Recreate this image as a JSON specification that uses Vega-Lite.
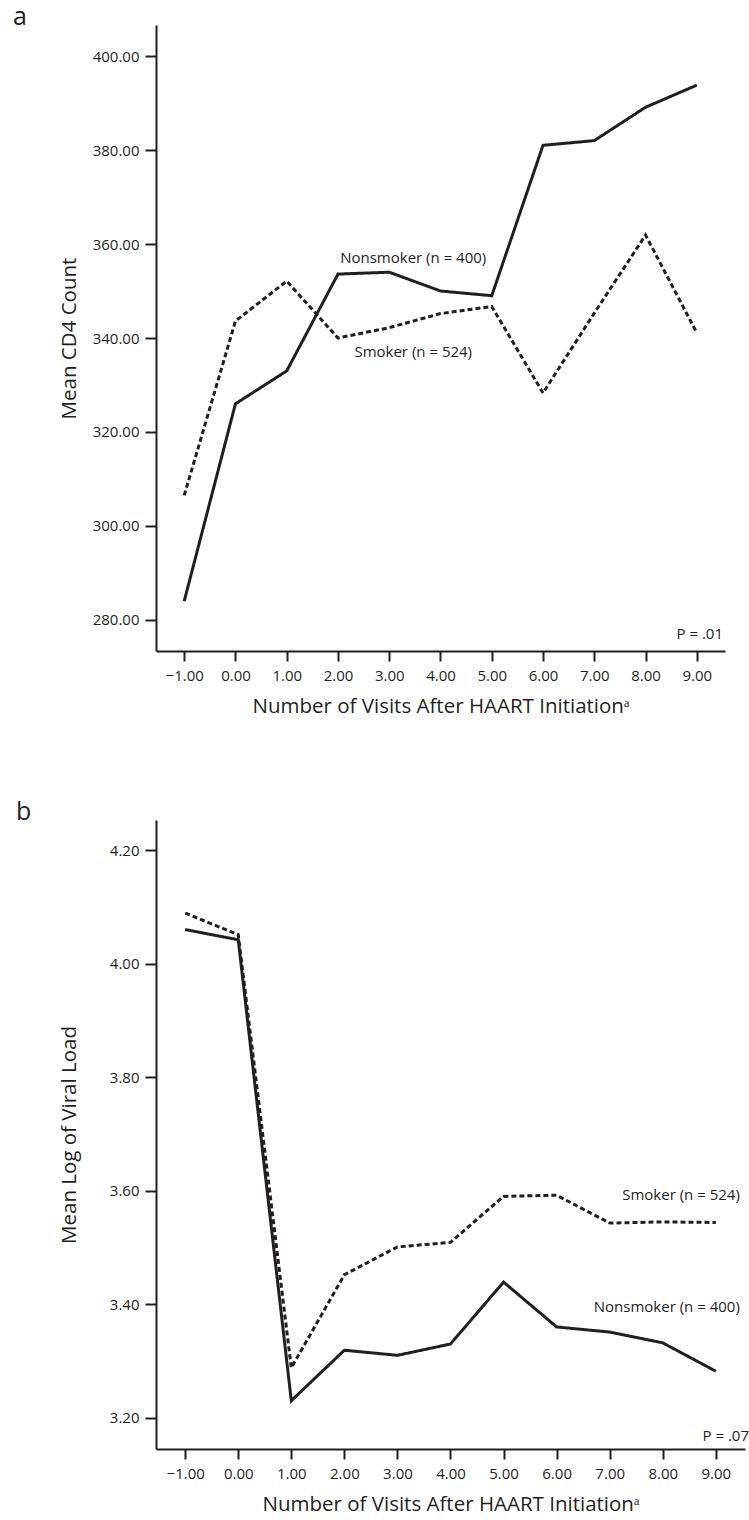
{
  "$schema": "https://vega.github.io/schema/vega-lite/v6.json",
  "background": "white",
  "padding": {"left": 13, "top": 5, "right": 0, "bottom": 0},
  "spacing": 83,
  "config": {
    "font": "Open Sans",
    "view": {"stroke": null},
    "axis": {
      "domainColor": "#231f20", "domainWidth": 2,
      "tickColor": "#231f20", "tickWidth": 2,
      "labelColor": "#231f20", "titleColor": "#231f20",
      "labelFontSize": 15, "titleFontSize": 20.5, "titleFontWeight": "normal",
      "labelFont": "Open Sans", "titleFont": "Open Sans", "grid": false
    },
    "axisX": {"tickSize": 10, "labelPadding": 7, "titlePadding": 13},
    "axisY": {"tickSize": 11, "labelPadding": 6, "titlePadding": 7, "minExtent": 70, "maxExtent": 70},
    "title": {"fontSize": 25, "fontWeight": "normal", "anchor": "start", "frame": "group", "color": "#231f20", "baseline": "alphabetic", "offset": 0}
  },
  "vconcat": [
    {
      "title": {"text": "a", "dx": -143, "dy": 9},
      "width": 569,
      "height": 626,
      "data": {"values": [
        {"visit": -1, "group": "Nonsmoker", "cd4": 284.0},
        {"visit": 0, "group": "Nonsmoker", "cd4": 326.0},
        {"visit": 1, "group": "Nonsmoker", "cd4": 333.0},
        {"visit": 2, "group": "Nonsmoker", "cd4": 353.6},
        {"visit": 3, "group": "Nonsmoker", "cd4": 354.0},
        {"visit": 4, "group": "Nonsmoker", "cd4": 350.0},
        {"visit": 5, "group": "Nonsmoker", "cd4": 349.0},
        {"visit": 6, "group": "Nonsmoker", "cd4": 381.0},
        {"visit": 7, "group": "Nonsmoker", "cd4": 382.0},
        {"visit": 8, "group": "Nonsmoker", "cd4": 389.1},
        {"visit": 9, "group": "Nonsmoker", "cd4": 393.8},
        {"visit": -1, "group": "Smoker", "cd4": 306.5},
        {"visit": 0, "group": "Smoker", "cd4": 343.6},
        {"visit": 1, "group": "Smoker", "cd4": 352.1},
        {"visit": 2, "group": "Smoker", "cd4": 340.0},
        {"visit": 3, "group": "Smoker", "cd4": 342.2},
        {"visit": 4, "group": "Smoker", "cd4": 345.2},
        {"visit": 5, "group": "Smoker", "cd4": 346.7},
        {"visit": 6, "group": "Smoker", "cd4": 328.3},
        {"visit": 7, "group": "Smoker", "cd4": 345.3},
        {"visit": 8, "group": "Smoker", "cd4": 361.9},
        {"visit": 9, "group": "Smoker", "cd4": 341.1}
      ]},
      "encoding": {
        "x": {"field": "visit", "type": "quantitative",
          "scale": {"domain": [-1.55, 9.55], "nice": false, "zero": false},
          "axis": {"values": [-1, 0, 1, 2, 3, 4, 5, 6, 7, 8, 9], "format": ".2f", "title": "Number of Visits After HAART Initiationᵃ"}},
        "y": {"field": "cd4", "type": "quantitative",
          "scale": {"domain": [273.4, 406.6], "nice": false, "zero": false},
          "axis": {"values": [280, 300, 320, 340, 360, 380, 400], "format": ".2f", "title": "Mean CD4 Count"}}
      },
      "layer": [
        {
          "mark": {"type": "line", "strokeWidth": 3, "color": "#231f20", "strokeCap": "butt", "strokeJoin": "miter"},
          "encoding": {
            "strokeDash": {"field": "group", "type": "nominal",
              "scale": {"domain": ["Nonsmoker", "Smoker"], "range": [[1, 0], [5, 3]]}, "legend": null}
          }
        },
        {
          "transform": [{"filter": "datum.group === 'Nonsmoker' && datum.visit === 3"}],
          "mark": {"type": "text", "text": "Nonsmoker (n = 400)", "fontSize": 15, "color": "#231f20", "align": "center", "baseline": "middle", "dx": 24, "dy": -14}
        },
        {
          "transform": [{"filter": "datum.group === 'Smoker' && datum.visit === 3"}],
          "mark": {"type": "text", "text": "Smoker (n = 524)", "fontSize": 15, "color": "#231f20", "align": "center", "baseline": "middle", "dx": 24, "dy": 24}
        },
        {
          "data": {"values": [{"p": "P = .01"}]},
          "mark": {"type": "text", "fontSize": 15, "color": "#231f20", "align": "right", "baseline": "alphabetic", "dx": -2, "dy": -12},
          "encoding": {"x": {"value": "width"}, "y": {"value": "height"}, "text": {"field": "p"}}
        }
      ]
    },
    {
      "title": {"text": "b", "dx": -140, "dy": 9},
      "width": 589,
      "height": 629,
      "data": {"values": [
        {"visit": -1, "group": "Nonsmoker", "vl": 4.060},
        {"visit": 0, "group": "Nonsmoker", "vl": 4.042},
        {"visit": 1, "group": "Nonsmoker", "vl": 3.230},
        {"visit": 2, "group": "Nonsmoker", "vl": 3.319},
        {"visit": 3, "group": "Nonsmoker", "vl": 3.310},
        {"visit": 4, "group": "Nonsmoker", "vl": 3.330},
        {"visit": 5, "group": "Nonsmoker", "vl": 3.439},
        {"visit": 6, "group": "Nonsmoker", "vl": 3.360},
        {"visit": 7, "group": "Nonsmoker", "vl": 3.351},
        {"visit": 8, "group": "Nonsmoker", "vl": 3.332},
        {"visit": 9, "group": "Nonsmoker", "vl": 3.282},
        {"visit": -1, "group": "Smoker", "vl": 4.089},
        {"visit": 0, "group": "Smoker", "vl": 4.051},
        {"visit": 1, "group": "Smoker", "vl": 3.288},
        {"visit": 2, "group": "Smoker", "vl": 3.452},
        {"visit": 3, "group": "Smoker", "vl": 3.501},
        {"visit": 4, "group": "Smoker", "vl": 3.509},
        {"visit": 5, "group": "Smoker", "vl": 3.590},
        {"visit": 6, "group": "Smoker", "vl": 3.592},
        {"visit": 7, "group": "Smoker", "vl": 3.543},
        {"visit": 8, "group": "Smoker", "vl": 3.545},
        {"visit": 9, "group": "Smoker", "vl": 3.544}
      ]},
      "encoding": {
        "x": {"field": "visit", "type": "quantitative",
          "scale": {"domain": [-1.55, 9.55], "nice": false, "zero": false},
          "axis": {"values": [-1, 0, 1, 2, 3, 4, 5, 6, 7, 8, 9], "format": ".2f", "title": "Number of Visits After HAART Initiationᵃ"}},
        "y": {"field": "vl", "type": "quantitative",
          "scale": {"domain": [3.145, 4.253], "nice": false, "zero": false},
          "axis": {"values": [3.2, 3.4, 3.6, 3.8, 4.0, 4.2], "format": ".2f", "title": "Mean Log of Viral Load"}}
      },
      "layer": [
        {
          "mark": {"type": "line", "strokeWidth": 3, "color": "#231f20", "strokeCap": "butt", "strokeJoin": "miter"},
          "encoding": {
            "strokeDash": {"field": "group", "type": "nominal",
              "scale": {"domain": ["Nonsmoker", "Smoker"], "range": [[1, 0], [4, 3]]}, "legend": null}
          }
        },
        {
          "transform": [{"filter": "datum.group === 'Smoker' && datum.visit === 9"}],
          "mark": {"type": "text", "text": "Smoker (n = 524)", "fontSize": 15, "color": "#231f20", "align": "right", "baseline": "middle", "dx": 24, "dy": -27}
        },
        {
          "transform": [{"filter": "datum.group === 'Nonsmoker' && datum.visit === 9"}],
          "mark": {"type": "text", "text": "Nonsmoker (n = 400)", "fontSize": 15, "color": "#231f20", "align": "right", "baseline": "middle", "dx": 24, "dy": -64}
        },
        {
          "data": {"values": [{"p": "P = .07"}]},
          "mark": {"type": "text", "fontSize": 15, "color": "#231f20", "align": "right", "baseline": "alphabetic", "dx": 4, "dy": -8},
          "encoding": {"x": {"value": "width"}, "y": {"value": "height"}, "text": {"field": "p"}}
        }
      ]
    }
  ]
}
